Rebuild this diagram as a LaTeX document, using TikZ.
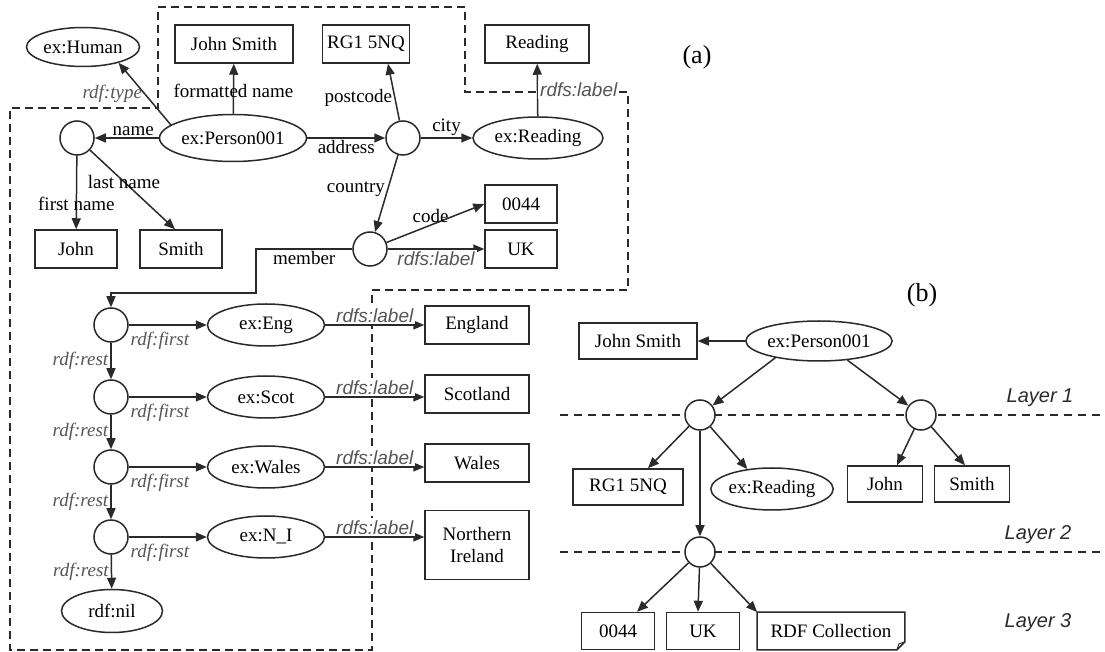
\documentclass[tikz,border=0pt]{standalone}
\usepackage{fontspec}
\setmainfont{Liberation Serif}
\setsansfont{Liberation Sans}
\usetikzlibrary{shapes.geometric, arrows.meta}

\definecolor{lblgray}{HTML}{555555}
\definecolor{linegray}{HTML}{2A2A2A}
\newcommand{\nfont}{\fontsize{9.5}{11}\selectfont}

\tikzset{
  box/.style={draw=linegray, rectangle, line width=0.75pt, inner sep=1pt, fill=white, align=center, minimum height=19pt},
  oval/.style={draw=linegray, ellipse, line width=0.75pt, inner sep=0pt, fill=white},
  blank/.style={draw=linegray, circle, line width=0.75pt, inner sep=0pt, fill=white, minimum size=17pt},
  link/.style={-{Triangle[length=5.5pt,width=4.5pt]}, line width=0.75pt, draw=linegray},
  prop/.style={font=\nfont, inner sep=1pt},
  rdfprop/.style={font=\nfont\itshape, text=lblgray, inner sep=1pt},
  rdfslabel/.style={font=\nfont\sffamily\itshape, text=lblgray, inner sep=1pt, fill=white},
  region/.style={dash pattern=on 4pt off 2.5pt, line width=0.8pt, draw=linegray},
  layerline/.style={dash pattern=on 4pt off 3pt, line width=0.6pt, draw=linegray},
  layertext/.style={font=\fontsize{10}{12}\selectfont\sffamily\itshape, text=linegray},
  tag/.style={font=\fontsize{13}{15}\selectfont},
}

\begin{document}
\begin{tikzpicture}[x=0.5pt, y=-0.5pt, every node/.style={font=\nfont}]
      \useasboundingbox (0,0) rectangle (1105,652);

      % Dashed region of part (a)
      \draw[region] (158,7) -- (465,7) -- (465,92) -- (628,92) -- (628,290) -- (372,290)
          -- (372,650) -- (10,650) -- (10,108) -- (158,108) -- cycle;

      % Part (a): person and address
      \node[tag] (taga) at (697,57) {(a)};
      \node[oval, minimum width=56.5pt, minimum height=19.5pt] (human) at (83,47) {ex:Human};
      \node[box, minimum width=59pt] (fname) at (234,44) {John Smith};
      \node[box, minimum width=43.5pt] (pcode) at (366,44) {RG1 5NQ};
      \node[box, minimum width=52pt] (cityname) at (537,44) {Reading};
      \node[oval, minimum width=73.5pt, minimum height=23.5pt] (person) at (233,138) {ex:Person001};
      \node[blank] (nm) at (77,138) {};
      \node[box, minimum width=41pt] (first) at (76,249) {John};
      \node[box, minimum width=41pt] (last) at (181,249) {Smith};
      \node[blank] (addr) at (403,138) {};
      \node[oval, minimum width=65pt, minimum height=21pt] (reading) at (538,138) {ex:Reading};
      \node[blank] (ctry) at (370,249) {};
      \node[box, minimum width=36pt] (code) at (521,204) {0044};
      \node[box, minimum width=36pt] (uk) at (521,249) {UK};

      \draw[link] (person.168) -- node[rdfprop, left, pos=0.5] {rdf:type} (human.-24);
      \draw[link] (person) -- node[prop, pos=0.45] {formatted name} (fname);
      \draw[link] (person) -- node[prop, above, pos=0.4] {name} (nm);
      \draw[link] (nm) -- node[prop, pos=0.65] {first name} (first);
      \draw[link] (nm) -- node[prop, pos=0.4] {last name} ([xshift=-3pt]last.north);
      \draw[link] (person) -- node[prop, below] {address} (addr);
      \draw[link] (addr) -- node[prop, left, pos=0.4] {postcode} ([xshift=11pt]pcode.south);
      \draw[link] (addr) -- node[prop, above] {city} (reading);
      \draw[link] (reading) -- node[rdfslabel, right] {rdfs:label} (cityname);
      \draw[link] (addr) -- node[prop, left, pos=0.45] {country} (ctry);
      \draw[link] (ctry) -- node[prop, above, pos=0.45] {code} (code.west);
      \draw[link] (ctry) -- node[rdfslabel, below] {rdfs:label} (uk);

      % Part (a): the member list
      \foreach \i/\y/\by/\res/\lit/\h in {1/325/325/Eng/England/19, 2/397/394/Scot/Scotland/19,
          3/467/463/Wales/Wales/19, 4/537/545/N\_I/{Northern\\Ireland}/34.5} {
          \node[blank] (l\i) at (111,\y) {};
          \node[oval, minimum width=58.5pt, minimum height=21pt] (e\i) at (266,\y) {ex:\res};
          \node[box, minimum width=52pt, minimum height=\h pt] (b\i) at (477,\by) {\lit};
          \draw[link] (l\i) -- node[rdfprop, below, pos=0.4, yshift=-2pt] {rdf:first} (e\i);
          \draw[link] (e\i) -- node[rdfslabel, above] {rdfs:label} (e\i -| b\i.west);
      }
      \node[oval, minimum width=50.5pt, minimum height=21.5pt] (nil) at (112,611) {rdf:nil};

      \foreach \i/\j in {1/2, 2/3, 3/4} {
          \draw[link] (l\i) -- node[rdfprop, left] {rdf:rest} (l\j);
      }
      \draw[link] (l4) -- node[rdfprop, left] {rdf:rest} (nil);

      \coordinate (mb) at (256,293);
      \draw[link] (ctry.west) -| node[prop, below, pos=0.25] {member} (mb) -| (l1);

      % Part (b): layers
      \draw[layerline] (560,415) -- (1105,415);
      \draw[layerline] (560,552) -- (1105,552);
      \node[layertext] (lay1) at (1040,398) {Layer 1};
      \node[layertext] (lay2) at (1038,535) {Layer 2};
      \node[layertext] (lay3) at (1038,623) {Layer 3};
      \node[tag] (tagb) at (922,295) {(b)};

      \node[oval, minimum width=70pt, minimum height=20pt] (pb) at (819,341) {ex:Person001};
      \node[box, minimum width=59pt, minimum height=18pt] (jsb) at (638,341) {John Smith};
      \node[blank, minimum size=15pt] (cb1) at (700,415) {};
      \node[blank, minimum size=15pt] (cb2) at (921,415) {};
      \node[box, minimum width=55pt, minimum height=18pt] (rgb) at (628,487) {RG1 5NQ};
      \node[oval, minimum width=59pt, minimum height=21pt] (erb) at (772,489) {ex:Reading};
      \node[box, minimum width=37.5pt, minimum height=18pt] (jb) at (885,484) {John};
      \node[box, minimum width=37.5pt, minimum height=18pt] (sb) at (972,484) {Smith};
      \node[blank, minimum size=15pt] (cb3) at (700,552) {};
      \node[box, minimum width=36.5pt, minimum height=18.5pt] (cdb) at (618,631) {0044};
      \node[box, minimum width=36.5pt, minimum height=18.5pt] (ukb) at (703,631) {UK};
      \node[minimum width=73.5pt, minimum height=18.5pt, inner sep=1pt] (rdfc) at (831,631) {RDF Collection};
      % folded corner of the collection note
      \draw[line width=0.75pt, draw=linegray] (rdfc.north west) -- (rdfc.north east) -- ([yshift=4pt]rdfc.south east)
          -- ([xshift=-4pt]rdfc.south east) -- (rdfc.south west) -- cycle;
      \draw[line width=0.5pt, draw=linegray] ([xshift=-4pt]rdfc.south east) -- ([xshift=-3pt, yshift=3pt]rdfc.south east)
          -- ([yshift=4pt]rdfc.south east);

      \draw[link] (pb) -- (jsb);
      \draw[link] (pb.201) -- (cb1);
      \draw[link] (pb.-34) -- (cb2);
      \draw[link] (cb1) -- ([xshift=10pt]rgb.north);
      \draw[link] (cb1) -- (erb.141);
      \draw[link] (cb1) -- (cb3);
      \draw[link] (cb2) -- ([xshift=6pt]jb.north);
      \draw[link] (cb2) -- ([xshift=-3.5pt]sb.north);
      \draw[link] (cb3) -- ([xshift=9.5pt]cdb.north);
      \draw[link] (cb3) -- ([xshift=-2.5pt]ukb.north);
      \draw[link] (cb3) -- (rdfc.north west);

\end{tikzpicture}
\end{document}
